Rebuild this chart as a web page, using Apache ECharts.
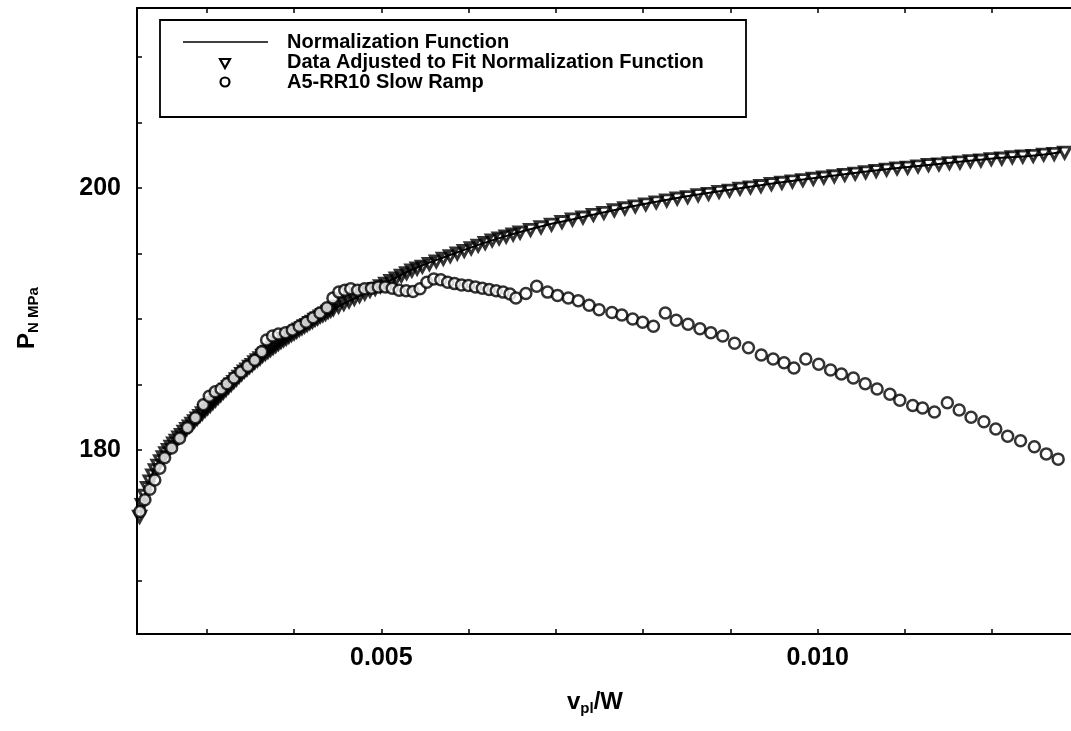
<!DOCTYPE html>
<html>
<head>
<meta charset="utf-8">
<title>Normalization function fit</title>
<script src="https://cdn.jsdelivr.net/npm/echarts@6/dist/echarts.min.js"></script>
<style>
  html, body { margin: 0; padding: 0; background: #fff; }
  #chart { width: 1071px; height: 731px; }
</style>
</head>
<body>
<div id="chart"></div>
<script>
// Axis ticks and labels
const xTickValues = [0.003, 0.004, 0.005, 0.006, 0.007, 0.008, 0.009, 0.010, 0.011, 0.012];
const xLabelValues = [0.005, 0.010];
const yTickValues = [170, 175, 180, 185, 190, 195, 200, 205, 210];
const yLabelValues = [180, 200];

// Normalization function curve (v_pl/W, P_N)
const normX = [0.002234, 0.002347, 0.002495, 0.002688, 0.003062, 0.003447, 0.003821, 0.004195,
  0.004581, 0.004955, 0.005329, 0.005715, 0.006089, 0.006463, 0.006849, 0.007189, 0.007733,
  0.008357, 0.008935, 0.009547, 0.010125, 0.010737, 0.011327, 0.011927, 0.012517, 0.012789];
const normY = [174.8, 177.7, 179.5, 181.0, 183.6, 186.1, 188.0, 189.75,
  191.2, 192.4, 193.7, 194.7, 195.6, 196.4, 197.1, 197.6, 198.4,
  199.2, 199.8, 200.4, 200.9, 201.4, 201.8, 202.2, 202.5, 202.75];

// Data adjusted to fit the normalization function
const adjX = [
  0.00223, 0.00226, 0.00229, 0.00232, 0.00235, 0.00238, 0.00241, 0.00244, 0.00247, 0.00250,
  0.00253, 0.00256, 0.00259, 0.00262, 0.00265, 0.00268, 0.00271, 0.00274, 0.00277, 0.00280,
  0.00283, 0.00286, 0.00289, 0.00292, 0.00295, 0.00298, 0.00301, 0.00304, 0.00307, 0.00310,
  0.00313, 0.00316, 0.00319, 0.00322, 0.00325, 0.00328, 0.00331, 0.00334, 0.00337, 0.00340,
  0.00343, 0.00346, 0.00349, 0.00352, 0.00355, 0.00358, 0.00361, 0.00364, 0.00367, 0.00370,
  0.00373, 0.00376, 0.00379, 0.00382, 0.00385, 0.00388, 0.00391, 0.00394, 0.00397, 0.00400,
  0.00403, 0.00406, 0.00409, 0.00412, 0.00415, 0.00418, 0.00421, 0.00424, 0.00427, 0.00430,
  0.00433, 0.00436, 0.00439, 0.00442, 0.00445,
  0.00451, 0.00457, 0.00463, 0.00469, 0.00475, 0.00481, 0.00487, 0.00493, 0.00499, 0.00505,
  0.00511, 0.00517, 0.00523, 0.00529, 0.00535, 0.00541, 0.00547,
  0.00555, 0.00563, 0.00571, 0.00579, 0.00587, 0.00595, 0.00603, 0.00611, 0.00619, 0.00627,
  0.00635, 0.00643, 0.00651, 0.00659,
  0.00671, 0.00683, 0.00695, 0.00707, 0.00719, 0.00731, 0.00743, 0.00755, 0.00767, 0.00779,
  0.00791, 0.00803, 0.00815, 0.00827, 0.00839, 0.00851, 0.00863, 0.00875, 0.00887, 0.00899,
  0.00911, 0.00923, 0.00935, 0.00947, 0.00959, 0.00971, 0.00983, 0.00995, 0.01007, 0.01019,
  0.01031, 0.01043, 0.01055, 0.01067, 0.01079, 0.01091, 0.01103, 0.01115, 0.01127, 0.01139,
  0.01151, 0.01163, 0.01175, 0.01187, 0.01199, 0.01211, 0.01223, 0.01235, 0.01247, 0.01259,
  0.01271, 0.01283];
const adjY = [
  174.9, 175.8, 176.5, 177.1, 177.6, 178.05, 178.45, 178.8, 179.15, 179.45,
  179.75, 180.0, 180.25, 180.5, 180.7, 180.95, 181.15, 181.4, 181.6, 181.8,
  182.0, 182.2, 182.4, 182.6, 182.8, 183.0, 183.2, 183.4, 183.6, 183.8,
  184.0, 184.2, 184.4, 184.6, 184.8, 185.0, 185.2, 185.4, 185.6, 185.8,
  186.0, 186.15, 186.35, 186.5, 186.7, 186.85, 187.0, 187.2, 187.35, 187.5,
  187.65, 187.8, 187.95, 188.1, 188.25, 188.4, 188.5, 188.65, 188.8, 188.9,
  189.05, 189.2, 189.3, 189.45, 189.55, 189.7, 189.8, 189.95, 190.05, 190.2,
  190.3, 190.4, 190.55, 190.65, 190.75,
  190.95, 191.15, 191.35, 191.55, 191.75, 191.95, 192.15, 192.3, 192.5, 192.7,
  192.9, 193.1, 193.3, 193.5, 193.7, 193.85, 194.0,
  194.2, 194.4, 194.6, 194.8, 195.0, 195.2, 195.4, 195.6, 195.8, 196.0,
  196.15, 196.3, 196.45, 196.6,
  196.8, 197.0, 197.2, 197.4, 197.6, 197.75, 197.95, 198.1, 198.3, 198.45,
  198.6, 198.75, 198.9, 199.05, 199.2, 199.3, 199.45, 199.55, 199.7, 199.8,
  199.95, 200.05, 200.15, 200.3, 200.4, 200.5, 200.6, 200.7, 200.8, 200.9,
  201.0, 201.1, 201.2, 201.3, 201.4, 201.5, 201.55, 201.65, 201.75, 201.8,
  201.9, 201.95, 202.05, 202.1, 202.2, 202.25, 202.35, 202.4, 202.45, 202.55,
  202.6, 202.7];

// A5-RR10 slow ramp measurements
const rampX = [0.002234, 0.002291, 0.002347, 0.002404, 0.002461, 0.002517, 0.002597, 0.002688,
  0.002778, 0.002869, 0.002960, 0.003028, 0.003096, 0.003164, 0.003232, 0.003311, 0.003390,
  0.003470, 0.003549, 0.003629, 0.003685, 0.003753, 0.003821, 0.003901, 0.003980, 0.004059,
  0.004139, 0.004218, 0.004297, 0.004377, 0.004445, 0.004513, 0.004581, 0.004649, 0.004728,
  0.004808, 0.004887, 0.004966, 0.005046, 0.005125, 0.005204, 0.005284, 0.005363, 0.005443,
  0.005522, 0.005601, 0.005681, 0.005760, 0.005839, 0.005919, 0.005998, 0.006078, 0.006157,
  0.006236, 0.006316, 0.006395, 0.006474, 0.006542, 0.006656, 0.006780, 0.006905, 0.007019,
  0.007143, 0.007257, 0.007381, 0.007495, 0.007642, 0.007756, 0.007880, 0.007994, 0.008118,
  0.008254, 0.008379, 0.008515, 0.008651, 0.008776, 0.008912, 0.009048, 0.009207, 0.009354,
  0.009490, 0.009615, 0.009728, 0.009864, 0.010012, 0.010148, 0.010272, 0.010409, 0.010545,
  0.010681, 0.010828, 0.010941, 0.011089, 0.011202, 0.011338, 0.011486, 0.011622, 0.011758,
  0.011905, 0.012041, 0.012177, 0.012325, 0.012483, 0.012620, 0.012756];
const rampY = [175.3, 176.2, 177.0, 177.7, 178.6, 179.4, 180.15, 180.9,
  181.7, 182.45, 183.45, 184.1, 184.45, 184.65, 185.05, 185.5, 185.95,
  186.4, 186.85, 187.5, 188.4, 188.7, 188.85, 188.95, 189.15, 189.45,
  189.75, 190.1, 190.45, 190.85, 191.6, 192.05, 192.2, 192.3, 192.2,
  192.3, 192.35, 192.45, 192.45, 192.35, 192.2, 192.15, 192.1, 192.3,
  192.8, 193.05, 193.0, 192.8, 192.7, 192.6, 192.55, 192.45, 192.35,
  192.25, 192.15, 192.05, 191.9, 191.6, 191.95, 192.5, 192.05, 191.8,
  191.6, 191.4, 191.05, 190.7, 190.5, 190.3, 190.0, 189.75, 189.45,
  190.45, 189.9, 189.6, 189.25, 188.95, 188.7, 188.15, 187.8, 187.25,
  186.95, 186.65, 186.25, 186.95, 186.55, 186.1, 185.8, 185.5, 185.05,
  184.65, 184.25, 183.8, 183.4, 183.2, 182.9, 183.6, 183.05, 182.5,
  182.15, 181.6, 181.05, 180.7, 180.25, 179.7, 179.3];

const pairs = (xs, ys) => xs.map((x, i) => [x, ys[i]]);

const FONT = '"Liberation Sans", Arial, Helvetica, sans-serif';
const X_MIN = 0.0022, X_MAX = 0.012903;
const Y_MIN = 165.95, Y_MAX = 213.74;

const chart = echarts.init(document.getElementById('chart'), null, { renderer: 'canvas' });

const axisLineStyle = { color: '#000', width: 2 };
const tickStyle = { color: '#000', width: 1.5 };
const legendFont = 'bold 20px ' + FONT;

chart.setOption({
  backgroundColor: '#fff',
  animation: false,
  grid: { left: 137, right: -10, top: 8, bottom: 97, containLabel: false },
  xAxis: [
    {
      type: 'value', position: 'bottom', min: X_MIN, max: X_MAX,
      axisLine: { show: true, onZero: false, lineStyle: axisLineStyle },
      axisTick: { show: true, inside: true, length: 5, customValues: xTickValues, lineStyle: tickStyle },
      axisLabel: {
        show: true, customValues: xLabelValues, margin: 12,
        color: '#000', fontFamily: FONT, fontWeight: 'bold', fontSize: 25,
        formatter: v => Number(v).toFixed(3)
      },
      splitLine: { show: false }
    },
    {
      type: 'value', position: 'top', min: X_MIN, max: X_MAX,
      axisLine: { show: true, onZero: false, lineStyle: axisLineStyle },
      axisTick: { show: true, inside: true, length: 5, customValues: xTickValues, lineStyle: tickStyle },
      axisLabel: { show: false },
      splitLine: { show: false }
    }
  ],
  yAxis: {
    type: 'value', min: Y_MIN, max: Y_MAX,
    axisLine: { show: true, onZero: false, lineStyle: axisLineStyle },
    axisTick: { show: true, inside: true, length: 5, customValues: yTickValues, lineStyle: tickStyle },
    axisLabel: {
      show: true, customValues: yLabelValues, margin: 16,
      color: '#000', fontFamily: FONT, fontWeight: 'bold', fontSize: 25
    },
    splitLine: { show: false }
  },
  series: [
    {
      name: 'Normalization Function',
      type: 'line',
      data: pairs(normX, normY),
      smooth: true,
      showSymbol: false,
      lineStyle: { color: '#000', width: 2 },
      z: 2
    },
    {
      name: 'Data Adjusted to Fit Normalization Function',
      type: 'scatter',
      data: pairs(adjX, adjY),
      symbol: 'triangle',
      symbolRotate: 180,
      symbolSize: [12, 11],
      itemStyle: { color: 'rgba(255,255,255,0)', borderColor: '#000', borderWidth: 3 },
      z: 3
    },
    {
      name: 'A5-RR10 Slow Ramp',
      type: 'scatter',
      data: pairs(rampX, rampY),
      symbol: 'circle',
      symbolSize: 11,
      itemStyle: { color: '#fff', borderColor: '#000', borderWidth: 2.5 },
      z: 4
    }
  ],
  graphic: [
    // Legend box
    {
      type: 'group', z: 100,
      children: [
        { type: 'rect', shape: { x: 160, y: 20, width: 586, height: 97 },
          style: { fill: '#fff', stroke: '#000', lineWidth: 1.8 } },
        { type: 'line', shape: { x1: 183, y1: 42, x2: 268, y2: 42 },
          style: { stroke: '#000', lineWidth: 1.6 } },
        { type: 'polygon', shape: { points: [[220, 59], [230, 59], [225, 68]] },
          style: { fill: 'none', stroke: '#000', lineWidth: 2.2 } },
        { type: 'circle', shape: { cx: 225, cy: 82, r: 4.5 },
          style: { fill: 'none', stroke: '#000', lineWidth: 2.2 } },
        { type: 'text', x: 287, y: 42,
          style: { text: 'Normalization Function', fill: '#000', font: legendFont, textVerticalAlign: 'middle' } },
        { type: 'text', x: 287, y: 62,
          style: { text: 'Data Adjusted to Fit Normalization Function', fill: '#000', font: legendFont, textVerticalAlign: 'middle' } },
        { type: 'text', x: 287, y: 82,
          style: { text: 'A5-RR10 Slow Ramp', fill: '#000', font: legendFont, textVerticalAlign: 'middle' } }
      ]
    },
    // x-axis title: v_pl/W
    {
      type: 'text', x: 595, y: 702, z: 100,
      style: {
        text: '{a|v}{s|pl}{a|/W}',
        align: 'center', verticalAlign: 'middle',
        rich: {
          a: { fontFamily: FONT, fontWeight: 'bold', fontSize: 24, fill: '#000', color: '#000' },
          s: { fontFamily: FONT, fontWeight: 'bold', fontSize: 15, fill: '#000', color: '#000', padding: [14, 0, 0, 0] }
        }
      }
    },
    // y-axis title: P_N MPa
    {
      type: 'text', x: 27, y: 318, rotation: Math.PI / 2, z: 100,
      style: {
        text: '{a|P}{s|N MPa}',
        align: 'center', verticalAlign: 'middle',
        rich: {
          a: { fontFamily: FONT, fontWeight: 'bold', fontSize: 24, fill: '#000', color: '#000' },
          s: { fontFamily: FONT, fontWeight: 'bold', fontSize: 15, fill: '#000', color: '#000', padding: [14, 0, 0, 0] }
        }
      }
    }
  ]
});
</script>
</body>
</html>
